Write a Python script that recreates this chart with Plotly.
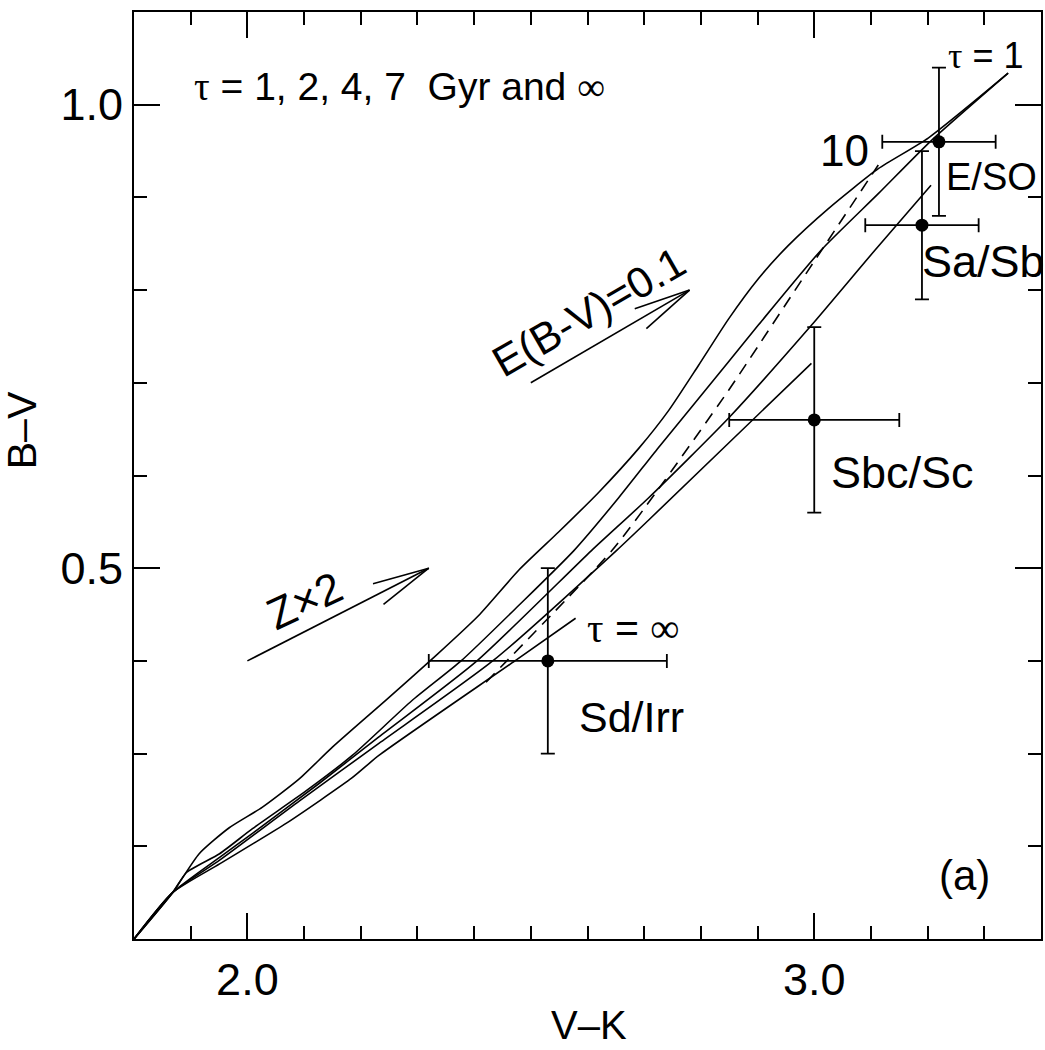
import math
import plotly.graph_objects as go

# ---------------- data ----------------
# model colour tracks (V-K, B-V)
tau1_vk = [1.80, 1.868, 1.915, 1.968, 2.026, 2.092, 2.150, 2.245, 2.333, 2.408, 2.479, 2.549, 2.620, 2.690, 2.743, 2.796, 2.849, 2.901, 2.954, 3.025, 3.113, 3.201, 3.342]
tau1_bv = [0.10, 0.150, 0.192, 0.220, 0.242, 0.273, 0.307, 0.358, 0.406, 0.449, 0.498, 0.539, 0.582, 0.629, 0.670, 0.719, 0.769, 0.812, 0.848, 0.888, 0.931, 0.964, 1.034]

tau2_vk = [1.80, 1.868, 1.893, 1.951, 2.009, 2.104, 2.185, 2.290, 2.377, 2.479, 2.576, 2.655, 2.725, 2.796, 2.901, 3.012, 3.113, 3.206, 3.342]
tau2_bv = [0.10, 0.150, 0.172, 0.192, 0.219, 0.260, 0.298, 0.357, 0.400, 0.460, 0.519, 0.576, 0.630, 0.683, 0.762, 0.843, 0.904, 0.961, 1.034]

tau4_vk = [1.80, 1.868, 1.951, 2.009, 2.127, 2.232, 2.405, 2.607, 2.708, 2.849, 2.995, 3.107, 3.206]
tau4_bv = [0.10, 0.150, 0.188, 0.214, 0.268, 0.318, 0.400, 0.519, 0.576, 0.662, 0.762, 0.843, 0.913]

tau7_vk = [1.80, 1.868, 1.951, 2.092, 2.232, 2.435, 2.651, 2.708, 2.995]
tau7_bv = [0.10, 0.150, 0.185, 0.249, 0.311, 0.401, 0.519, 0.552, 0.721]

tauinf_vk = [1.80, 1.868, 1.951, 2.069, 2.185, 2.232, 2.472, 2.579]
tauinf_bv = [0.10, 0.150, 0.181, 0.225, 0.274, 0.298, 0.400, 0.446]

dash_vk = [2.421, 2.643, 2.720, 2.849, 2.989, 3.113]
dash_bv = [0.377, 0.519, 0.581, 0.692, 0.821, 0.935]

# observed galaxy colours
gal_types = ["E/SO", "Sa/Sb", "Sbc/Sc", "Sd/Irr"]
gal_vk = [3.22, 3.19, 3.00, 2.53]
gal_bv = [0.96, 0.87, 0.66, 0.40]
gal_vk_err = [0.10, 0.10, 0.15, 0.21]
gal_bv_err = [0.08, 0.08, 0.10, 0.10]

# vectors: (start V-K, start B-V, end V-K, end B-V)
vec_names = ["E(B-V)=0.1", "Z×2"]
vec_x0 = [2.50, 2.00]
vec_y0 = [0.70, 0.40]
vec_x1 = [2.78, 2.32]
vec_y1 = [0.80, 0.50]

x_ticks = [2.0, 3.0]
y_ticks = [0.5, 1.0]
x_tick_text = ["2.0", "3.0"]
y_tick_text = ["0.5", "1.0"]

# ---------------- layout constants ----------------
W, H = 1045, 1050
ML, MR, MT, MB = 134, 2, 12, 111
XR = [1.8, 3.4]
YR = [0.1, 1.1]
PW, PH = W - ML - MR, H - MT - MB
sx = PW / (XR[1] - XR[0])
sy = PH / (YR[1] - YR[0])

SANS = "Liberation Sans, Arial, Helvetica, sans-serif"
LW = 1.6

fig = go.Figure()

for vx, vy in [(tau1_vk, tau1_bv), (tau2_vk, tau2_bv), (tau4_vk, tau4_bv),
               (tau7_vk, tau7_bv), (tauinf_vk, tauinf_bv)]:
    fig.add_trace(go.Scatter(x=vx, y=vy, mode="lines",
                             line=dict(color="black", width=LW, shape="spline", smoothing=0.6),
                             showlegend=False, hoverinfo="skip"))

fig.add_trace(go.Scatter(x=dash_vk, y=dash_bv, mode="lines",
                         line=dict(color="black", width=LW, dash="12px,8px", shape="spline", smoothing=0.6),
                         showlegend=False, hoverinfo="skip"))

fig.add_trace(go.Scatter(
    x=gal_vk, y=gal_bv, mode="markers",
    marker=dict(color="black", size=13),
    error_x=dict(type="data", array=gal_vk_err, color="black", thickness=1.8, width=7),
    error_y=dict(type="data", array=gal_bv_err, color="black", thickness=1.8, width=7),
    showlegend=False, hoverinfo="skip"))

# vectors with open arrow heads (barbs computed in screen space)
BARB = 58
ANG = math.radians(11.5)
for x0, y0, x1, y1 in zip(vec_x0, vec_y0, vec_x1, vec_y1):
    dxp = (x1 - x0) * sx
    dyp = (y1 - y0) * sy
    th = math.atan2(dyp, dxp) + math.pi
    bx, by = [], []
    for s in (1, -1):
        a = th + s * ANG
        bx += [x1 + BARB * math.cos(a) / sx, x1, None]
        by += [y1 + BARB * math.sin(a) / sy, y1, None]
    fig.add_trace(go.Scatter(x=[x0, x1, None] + bx, y=[y0, y1, None] + by, mode="lines",
                             line=dict(color="black", width=LW),
                             showlegend=False, hoverinfo="skip"))

def ann(text, x, y, size, angle=0, font=SANS):
    fig.add_annotation(x=x, y=y, xref="x", yref="y", text=text, showarrow=False,
                       textangle=angle, font=dict(family=font, size=size, color="black"),
                       xanchor="center", yanchor="middle")

tau = '<span style="font-family:Liberation Serif">τ</span>'
inf = '<span style="font-family:Liberation Serif">∞</span>'
ann(tau + " = 1, 2, 4, 7  Gyr and " + inf, 2.268, 1.020, 39)
ann(tau + " = 1", 3.303, 1.053, 36)
ann("10", 3.053, 0.951, 44)
ann(tau + " = " + inf, 2.680, 0.436, 41)
label_x = [3.312, 3.298, 3.155, 2.677]
label_y = [0.922, 0.831, 0.603, 0.340]
label_fs = [38, 45, 45, 43]
for t, lx, ly, fs in zip(gal_types, label_x, label_y, label_fs):
    ann(t, lx, ly, fs)
ann("(a)", 3.265, 0.168, 42)
ann(vec_names[0], 2.602, 0.776, 43, angle=-30)
ann(vec_names[1], 2.100, 0.465, 44, angle=-25)

# axis titles
fig.add_annotation(x=(590 - ML) / PW, y=-(H - 1 - (H - MB)) / PH, xref="paper", yref="paper",
                   text="V–K", showarrow=False, font=dict(family=SANS, size=40, color="black"),
                   xanchor="center", yanchor="bottom")
fig.add_annotation(x=-(ML - 22) / PW, y=(H - MB - 430) / PH, xref="paper", yref="paper",
                   text="B–V", showarrow=False, textangle=-90,
                   font=dict(family=SANS, size=41, color="black"),
                   xanchor="center", yanchor="middle")

axis_common = dict(showline=True, linecolor="black", linewidth=2, mirror="ticks",
                   ticks="inside", ticklen=26, tickwidth=2, tickcolor="black",
                   showgrid=False, zeroline=False,
                   tickfont=dict(family=SANS, size=45, color="black"))

fig.update_xaxes(range=XR, tickvals=x_ticks, ticktext=x_tick_text,
                 minor=dict(dtick=0.1, tick0=1.8, ticks="inside", ticklen=13, tickwidth=2, tickcolor="black", showgrid=False),
                 **axis_common)
fig.update_yaxes(range=YR, tickvals=y_ticks, ticktext=y_tick_text,
                 minor=dict(dtick=0.1, tick0=0.1, ticks="inside", ticklen=13, tickwidth=2, tickcolor="black", showgrid=False),
                 **axis_common)

fig.update_layout(width=W, height=H, margin=dict(l=ML, r=MR, t=MT, b=MB),
                  plot_bgcolor="white", paper_bgcolor="white", showlegend=False)

fig.write_html("out.html")
